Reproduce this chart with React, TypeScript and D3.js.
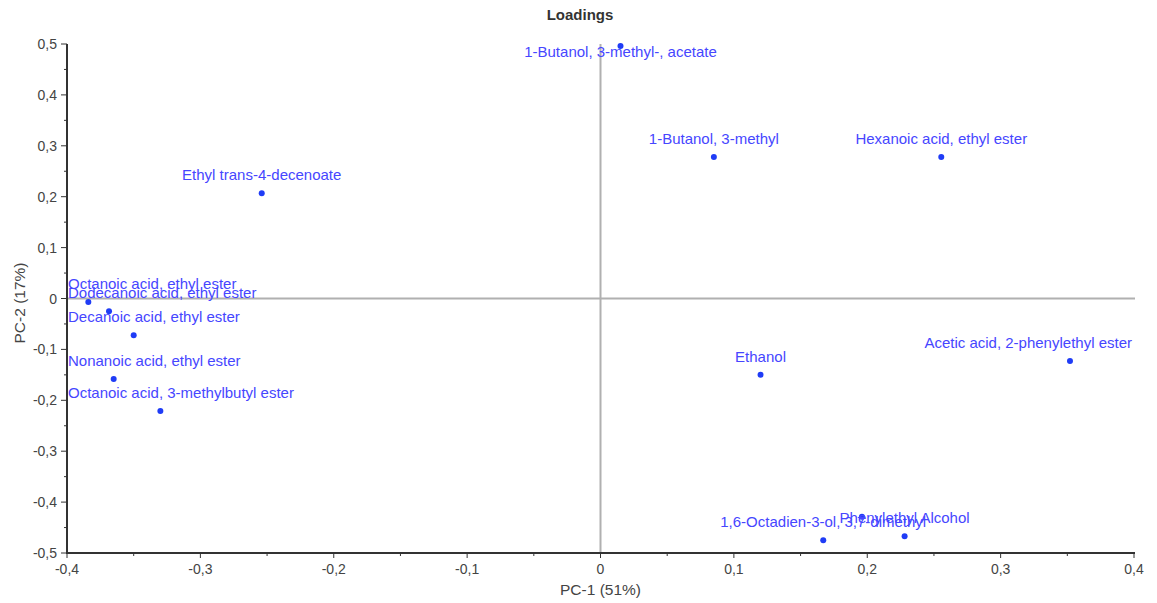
import React, { useEffect, useRef } from "react";
import * as d3 from "d3";

const names = [
  "Octanoic acid, ethyl ester",
  "Dodecanoic acid, ethyl ester",
  "Decanoic acid, ethyl ester",
  "Nonanoic acid, ethyl ester",
  "Octanoic acid, 3-methylbutyl ester",
  "Ethyl trans-4-decenoate",
  "1-Butanol, 3-methyl-, acetate",
  "1-Butanol, 3-methyl",
  "Hexanoic acid, ethyl ester",
  "Ethanol",
  "Acetic acid, 2-phenylethyl ester",
  "1,6-Octadien-3-ol, 3,7-dimethyl",
  "",
  "Phenylethyl Alcohol",
];
const pc1 = [-0.384, -0.3685, -0.350, -0.365, -0.330, -0.254, 0.015, 0.085, 0.2555, 0.120, 0.352, 0.167, 0.196, 0.228];
const pc2 = [-0.007, -0.025, -0.072, -0.158, -0.221, 0.207, 0.496, 0.278, 0.278, -0.150, -0.123, -0.475, -0.429, -0.467];
const xTicks = [-0.4, -0.3, -0.2, -0.1, 0, 0.1, 0.2, 0.3, 0.4];
const yTicks = [0.5, 0.4, 0.3, 0.2, 0.1, 0, -0.1, -0.2, -0.3, -0.4, -0.5];

const W = 1157, H = 603;
const L = 67, R = 1134, T = 44, B = 553;

const fmt = (v: number) => (Math.abs(v) < 1e-9 ? "0" : d3.format(".1f")(v).replace(".", ",").replace("−", "-"));

export default function App() {
  const ref = useRef<SVGSVGElement>(null);
  useEffect(() => {
    const svg = d3.select(ref.current);
    svg.selectAll("*").remove();
    const x = d3.scaleLinear().domain([-0.4, 0.4]).range([L, R]);
    const y = d3.scaleLinear().domain([-0.5, 0.5]).range([B, T]);
    const font = "Liberation Sans, Arial, sans-serif";

    svg.append("text").attr("x", 580).attr("y", 20).attr("text-anchor", "middle")
      .attr("font-family", font).attr("font-size", 15).attr("font-weight", "bold").attr("fill", "#333").text("Loadings");

    // zero lines
    svg.append("line").attr("x1", L).attr("x2", R + 1).attr("y1", y(0)).attr("y2", y(0))
      .attr("stroke", "#b0b0b0").attr("stroke-width", 2);
    svg.append("line").attr("x1", x(0)).attr("x2", x(0)).attr("y1", T).attr("y2", B)
      .attr("stroke", "#b0b0b0").attr("stroke-width", 2);

    // axes
    const minorX = d3.range(-0.35, 0.4, 0.1);
    const minorY = d3.range(-0.45, 0.5, 0.1);
    const g = svg.append("g");
    g.append("line").attr("x1", L).attr("x2", L).attr("y1", T).attr("y2", B + 1).attr("stroke", "#333").attr("stroke-width", 2);
    g.append("line").attr("x1", L - 1).attr("x2", R + 1).attr("y1", B).attr("y2", B).attr("stroke", "#333").attr("stroke-width", 2);
    yTicks.forEach(v => {
      g.append("line").attr("x1", L - 6).attr("x2", L).attr("y1", y(v)).attr("y2", y(v)).attr("stroke", "#333").attr("stroke-width", 1);
      g.append("text").attr("x", L - 10).attr("y", y(v) + 5).attr("text-anchor", "end")
        .attr("font-family", font).attr("font-size", 14).attr("fill", "#444").text(fmt(v));
    });
    minorY.forEach(v => {
      g.append("line").attr("x1", L - 3).attr("x2", L).attr("y1", y(v)).attr("y2", y(v)).attr("stroke", "#333").attr("stroke-width", 1);
    });
    xTicks.forEach(v => {
      g.append("line").attr("x1", x(v)).attr("x2", x(v)).attr("y1", B).attr("y2", B + 5).attr("stroke", "#333").attr("stroke-width", 1);
      g.append("text").attr("x", x(v)).attr("y", B + 21).attr("text-anchor", "middle")
        .attr("font-family", font).attr("font-size", 14).attr("fill", "#444").text(fmt(v));
    });
    minorX.forEach(v => {
      g.append("line").attr("x1", x(v)).attr("x2", x(v)).attr("y1", B).attr("y2", B + 3).attr("stroke", "#333").attr("stroke-width", 1);
    });

    svg.append("text").attr("x", x(0)).attr("y", 595).attr("text-anchor", "middle")
      .attr("font-family", font).attr("font-size", 15.5).attr("fill", "#444").text("PC-1 (51%)");
    svg.append("text").attr("transform", `translate(25,303) rotate(-90)`).attr("text-anchor", "middle")
      .attr("font-family", font).attr("font-size", 15.5).attr("fill", "#444").text("PC-2 (17%)");

    // points
    const pts = svg.append("g");
    pc1.forEach((v, i) => {
      pts.append("circle").attr("cx", x(v)).attr("cy", y(pc2[i])).attr("r", 3).attr("fill", "#1f3cf6");
    });
    const labs = svg.append("g");
    names.forEach((n, i) => {
      if (!n) return;
      const t = labs.append("text").attr("font-family", font).attr("font-size", 15).attr("fill", "#4646ff").text(n);
      const w = (t.node() as SVGTextElement).getComputedTextLength();
      let lx = x(pc1[i]) - w / 2;
      lx = Math.max(L + 1, Math.min(R - 2 - w, lx));
      let cy = y(pc2[i]) - 18;
      cy = Math.max(T + 8, cy);
      t.attr("x", lx).attr("y", cy + 5);
    });
  }, []);
  return <svg ref={ref} width={W} height={H} style={{ position: "absolute", left: 0, top: 0, background: "#fff" }} />;
}
